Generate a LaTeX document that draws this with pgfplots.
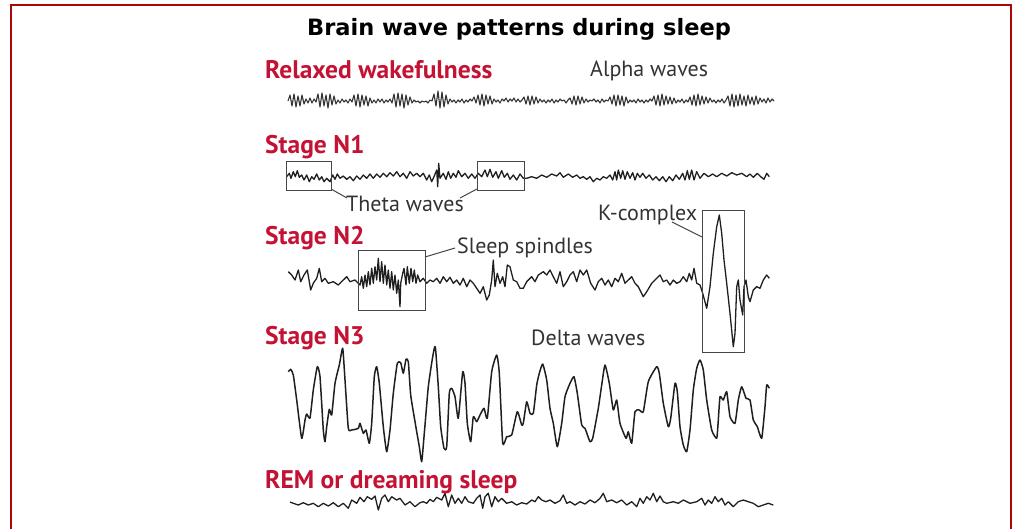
\documentclass[border=0pt]{standalone}
\usepackage{fontspec}
\usepackage{pgfplots}
\pgfplotsset{compat=1.18}
\newfontfamily\titlefont{DejaVu Sans}
\newfontfamily\labfont{PT Sans}
\definecolor{frame}{RGB}{170,8,8}
\definecolor{stage}{RGB}{196,18,52}
\definecolor{note}{RGB}{51,51,51}
\definecolor{boxc}{RGB}{70,70,70}

\pgfplotstableread{
x y
288 101
290 95
292 106
294 94
296 107
298 96
300 106
302 95
304 104
306 99
308 103
310 98
312 103
314 99
316 102
318 94
320 107
322 93
324 106
326 95
328 108
330 94
332 105
334 96
336 104
338 100
340 103
342 99
344 102
346 100
348 103
350 99
352 102
354 95
356 106
358 94
360 107
362 95
364 105
366 96
368 106
370 98
372 103
374 100
376 103
378 99
380 102
382 99
384 103
386 100
388 102
390 99
392 103
394 94
396 107
398 93
400 106
402 94
404 108
406 95
408 105
410 97
412 103
414 100
416 102
418 101
420 103
422 101
424 102
426 101
428 103
430 100
432 101
434 94
436 106
438 91
440 108
442 92
444 107
446 95
448 104
450 99
452 102
454 100
456 103
458 100
460 102
462 99
464 103
466 100
468 102
470 99
472 101
474 97
476 103
478 95
480 105
482 94
484 106
486 95
488 104
490 96
492 104
494 99
496 102
498 100
500 103
502 99
504 101
506 98
508 102
510 99
512 101
514 98
516 102
518 99
520 102
522 100
524 97
526 104
528 96
530 105
532 96
534 104
536 97
538 103
540 99
542 102
544 100
546 103
548 100
550 102
552 99
554 103
556 100
558 102
560 99
562 101
564 100
566 103
568 100
570 98
572 104
574 96
576 105
578 96
580 104
582 97
584 103
586 99
588 102
590 100
592 101
594 99
596 102
598 100
600 103
602 99
604 102
606 100
608 101
610 97
612 104
614 95
616 106
618 95
620 105
622 96
624 106
626 97
628 103
630 100
632 102
634 100
636 103
638 99
640 102
642 100
644 103
646 100
648 102
650 99
652 101
654 96
656 105
658 95
660 106
662 94
664 105
666 96
668 104
670 97
672 104
674 98
676 103
678 100
680 102
682 99
684 103
686 100
688 102
690 97
692 105
694 95
696 106
698 94
700 105
702 96
704 104
706 97
708 103
710 98
712 102
714 100
716 103
718 100
720 102
722 99
724 103
726 100
728 96
730 106
732 94
734 107
736 95
738 106
740 94
742 105
744 96
746 106
748 95
750 104
752 97
754 105
756 96
758 104
760 98
762 102
764 99
766 103
768 98
770 102
772 99
774 101
}\alphatab

\pgfplotstableread{
x y
286.7 176.7
289.3 173.3
291.0 178.3
293.3 171.7
295.3 176.7
297.3 170.7
299.3 177.3
301.7 175.0
304.0 180.0
306.7 175.0
309.3 181.7
311.7 176.7
314.0 179.3
316.7 174.0
319.3 180.0
321.7 176.7
324.0 181.7
326.7 178.3
330.0 181.7
332.7 175.0
335.0 179.3
337.3 174.0
340.0 178.3
343.3 176.0
346.7 179.3
350.0 176.7
353.3 180.7
356.7 176.0
360.0 179.3
363.3 175.0
366.7 178.3
370.0 174.0
373.3 178.3
376.7 174.0
380.0 177.3
383.3 173.3
386.7 176.7
390.0 172.7
393.3 176.0
396.7 171.7
400.0 176.7
403.3 173.3
406.7 178.3
410.0 171.7
413.3 176.0
416.7 173.3
420.0 176.7
423.3 173.3
426.7 180.0
429.3 175.0
431.7 181.7
434.0 176.7
436.7 170.0
437.7 186.7
438.7 163.3
440.0 178.3
443.3 173.3
446.0 179.3
448.3 171.7
450.7 178.3
453.3 173.3
456.0 177.3
458.3 170.7
461.7 176.7
465.0 173.3
468.3 178.3
471.7 174.0
475.0 178.3
478.3 173.3
481.7 176.7
485.0 170.0
487.3 176.7
490.0 169.3
492.7 177.3
496.0 171.7
498.3 178.3
501.7 170.7
504.3 177.3
507.3 173.3
510.0 179.3
513.3 175.0
516.7 180.0
520.0 174.0
523.3 178.3
526.7 178.3
531.7 176.7
536.7 178.3
541.7 175.0
546.7 177.3
551.7 174.0
556.7 176.0
560.0 172.7
563.3 177.3
568.3 174.0
572.7 177.3
576.7 175.0
580.0 178.3
583.3 176.7
586.7 179.3
590.0 176.7
593.3 181.7
596.7 178.3
600.0 180.0
603.3 176.7
606.7 178.3
610.0 175.0
612.7 180.0
615.0 171.7
616.7 180.0
618.3 170.0
620.7 178.3
622.7 170.7
625.0 179.3
627.3 171.7
630.0 178.3
632.7 172.7
635.0 180.0
637.3 173.3
640.0 177.3
642.7 173.3
646.0 178.3
649.3 175.0
652.7 180.0
656.0 176.7
659.3 180.7
662.7 176.7
666.0 181.7
669.3 176.7
672.7 180.7
676.0 175.0
679.3 179.3
682.7 173.3
685.0 180.0
687.3 170.7
689.3 179.3
691.7 170.0
694.0 180.0
696.7 171.7
700.0 178.3
704.0 173.3
708.3 176.7
712.7 174.0
716.7 176.7
721.7 173.3
726.7 176.0
731.7 172.7
736.7 175.0
741.7 173.3
746.7 176.7
750.0 174.0
753.3 177.3
757.3 173.3
760.7 176.7
764.0 179.3
766.7 173.3
769.3 176.7
}\thetatab

\pgfplotstableread{
x y
288.3 271.7
291.7 275.0
295.0 280.0
298.3 270.0
300.7 281.7
304.0 275.0
307.3 270.0
310.7 290.0
313.3 283.3
316.7 278.3
319.3 268.3
321.7 281.7
325.0 278.3
328.3 283.3
333.3 281.7
338.3 285.0
343.3 280.0
346.7 276.7
350.0 281.7
355.0 280.0
360.0 285.0
361.7 276.7
363.3 288.3
365.0 275.0
366.7 286.7
368.3 271.7
370.0 285.0
371.7 268.3
373.3 283.3
375.0 266.7
376.7 280.0
378.3 258.3
380.0 281.7
381.7 261.7
383.3 283.3
385.0 265.0
386.7 285.0
388.3 270.0
390.0 288.3
391.7 271.7
393.3 290.0
395.0 275.0
396.7 293.3
398.3 280.0
400.0 306.7
400.7 283.3
402.7 273.3
404.0 268.3
406.0 285.0
407.3 266.7
409.3 283.3
411.0 268.3
412.7 281.7
414.3 270.0
416.0 283.3
417.7 275.0
420.0 281.7
423.3 278.3
426.7 283.3
430.0 280.0
433.3 281.7
436.7 278.3
440.0 283.3
443.3 276.7
446.7 281.7
450.0 277.3
453.3 283.3
456.7 280.0
460.0 285.0
463.3 278.3
466.7 286.7
470.0 280.0
473.3 283.3
476.7 288.3
480.0 293.3
483.3 286.7
486.7 300.0
489.3 295.0
491.7 280.0
493.3 260.0
495.0 286.7
497.3 273.3
500.0 283.3
502.7 276.7
505.0 286.7
507.3 265.0
510.0 266.7
513.3 280.0
516.7 281.7
520.0 288.3
523.3 288.3
526.7 281.7
531.7 276.7
535.0 281.7
538.3 275.0
543.3 271.7
546.7 275.0
550.0 270.0
553.3 276.7
556.7 283.3
560.0 271.7
563.3 286.7
566.7 281.7
570.0 275.0
573.3 271.7
576.7 281.7
580.0 270.0
583.3 275.0
586.7 270.0
590.7 283.3
595.0 290.0
598.3 281.7
601.7 278.3
605.0 285.0
608.3 280.0
611.7 286.7
615.0 278.3
618.3 281.7
621.7 273.3
625.0 283.3
628.3 280.0
631.7 276.7
635.0 283.3
638.3 286.7
643.3 296.7
646.7 291.7
651.7 283.3
656.7 278.3
660.0 275.0
663.3 281.7
666.7 280.0
670.0 285.0
673.3 280.0
676.7 283.3
680.0 281.7
683.3 276.7
686.7 281.7
689.3 273.3
691.7 280.0
694.0 268.3
696.7 283.3
700.0 285.0
702.7 293.3
706.7 308.3
710.0 286.7
713.3 253.3
716.7 226.7
719.3 215.0
721.7 233.3
724.0 260.0
726.7 283.3
730.0 313.3
733.3 346.7
735.0 333.3
736.7 286.7
738.3 280.0
740.0 300.0
742.7 315.0
744.0 286.7
746.0 280.0
748.3 296.7
750.0 301.7
753.3 290.0
756.7 286.7
760.0 288.3
763.3 280.0
766.7 275.0
769.3 278.3
}\spindletab

\pgfplotstableread{
x y
288.3 371.7
290.7 369.3
293.3 375.0
296.7 400.0
301.7 438.3
305.0 420.0
306.7 414.0
310.0 418.0
313.3 390.0
317.3 366.7
320.0 376.7
323.3 430.0
325.0 441.7
326.7 426.7
329.3 409.3
331.7 415.0
335.0 383.3
339.3 365.0
342.7 348.3
345.0 380.0
348.3 428.3
351.7 430.0
358.3 428.3
360.0 423.3
363.3 433.3
366.0 430.0
369.3 443.3
371.7 423.3
374.3 376.7
376.7 366.7
379.3 383.3
383.3 426.7
386.7 451.7
390.0 430.0
393.3 393.3
397.3 363.3
400.7 362.7
403.3 373.3
406.0 359.3
408.3 361.7
410.7 395.0
415.0 421.7
419.3 446.7
421.7 461.7
424.3 433.3
428.3 386.7
432.7 356.7
435.3 346.7
438.3 386.7
440.7 426.7
444.0 448.3
446.7 446.7
449.3 393.3
451.7 388.3
455.0 396.7
458.3 418.3
462.7 371.7
465.0 383.3
467.3 423.3
470.7 441.7
473.3 416.7
476.7 421.7
480.0 415.0
484.0 408.3
487.3 418.3
491.7 371.7
496.7 355.0
499.3 373.3
502.7 443.3
506.7 436.7
511.7 435.0
517.3 411.7
521.7 425.0
523.3 423.3
526.7 401.7
530.0 413.3
533.3 413.3
536.7 385.0
539.3 373.3
542.7 364.0
546.7 380.0
550.0 408.3
553.3 423.3
557.3 446.7
561.7 423.3
565.0 396.7
570.0 383.3
574.0 376.7
577.3 393.3
581.7 425.0
585.0 428.3
590.0 441.7
592.7 438.3
598.3 408.3
601.7 385.0
605.0 365.0
609.3 383.3
613.3 410.0
616.7 400.0
620.0 423.3
626.0 438.3
628.3 431.7
631.7 443.3
635.0 411.7
639.3 410.0
643.3 411.7
648.3 381.7
656.7 366.7
659.3 373.3
663.3 403.3
668.3 426.7
670.7 418.3
675.0 383.3
677.3 391.7
680.0 426.7
683.3 445.0
686.7 451.7
690.0 430.0
693.3 390.0
696.7 368.3
700.0 360.0
703.3 370.0
706.7 400.0
711.7 430.0
716.7 438.3
718.3 420.0
720.0 396.7
723.3 400.0
726.7 391.7
730.0 416.7
735.0 423.3
738.3 400.0
741.7 386.7
746.0 398.3
750.0 400.0
753.3 420.0
757.3 426.7
761.7 438.3
765.0 406.7
766.7 385.0
769.3 388.3
}\deltatab

\pgfplotstableread{
x y
290.0 502.0
293.3 503.3
298.3 505.0
303.3 502.7
308.3 505.0
313.3 503.3
318.3 506.7
323.3 503.3
328.3 506.0
333.3 502.7
338.3 506.7
343.3 503.3
348.3 508.3
351.7 500.0
356.7 503.3
360.0 497.3
364.0 501.7
367.3 496.7
371.7 499.3
375.0 496.0
378.3 510.0
381.7 498.3
385.0 495.0
388.3 501.7
391.7 496.7
396.7 500.0
400.0 498.3
405.0 505.0
410.0 501.7
415.0 506.7
420.0 502.7
423.3 501.7
426.7 503.3
430.0 499.3
433.3 501.7
436.7 497.3
441.7 500.0
445.0 493.3
448.3 506.7
451.7 495.0
455.0 503.3
458.3 498.3
461.7 503.3
465.0 496.7
468.3 501.7
473.3 503.3
476.7 498.3
480.0 495.0
482.7 508.3
485.0 496.7
488.3 493.3
491.7 506.7
495.0 496.7
498.3 501.7
501.7 498.3
506.7 503.3
511.7 501.7
516.7 505.0
521.7 502.7
526.7 504.0
531.7 500.0
535.0 501.7
538.3 496.7
541.7 500.0
546.0 501.7
550.0 500.0
555.0 503.3
560.0 500.7
563.3 495.0
566.7 503.3
570.0 501.7
575.0 505.0
580.0 501.7
585.0 504.0
590.0 500.0
595.0 502.7
600.0 498.3
603.3 493.3
606.7 501.7
611.7 500.0
616.7 502.7
621.7 500.0
626.7 505.0
631.7 501.7
636.7 506.7
640.0 498.3
643.3 503.3
646.7 496.7
650.0 500.0
653.3 493.3
656.7 501.7
660.0 496.0
663.3 501.7
666.7 503.3
673.3 501.7
678.3 503.3
683.3 500.0
690.0 503.3
696.7 501.7
701.7 498.3
705.0 505.0
708.3 500.0
711.7 503.3
715.0 496.7
718.3 501.7
721.7 498.3
725.0 505.0
728.3 501.7
733.3 506.7
738.3 501.7
743.3 500.0
748.3 501.7
753.3 503.3
758.3 506.7
763.3 505.0
768.3 503.3
773.3 505.0
}\remtab

\begin{document}
\begin{tikzpicture}
\begin{axis}[
  scale only axis, width=1015bp, height=529bp,
  xmin=0, xmax=1015, ymin=0, ymax=529, y dir=reverse,
  hide axis, clip=false,
  trace/.style={black!88, line width=1.3bp, line join=round, no markers},
]
\path (axis cs:0,0) rectangle (axis cs:1015,529);
\draw[frame, line width=2bp] (axis cs:11,529) -- (axis cs:11,5) -- (axis cs:1011,5) -- (axis cs:1011,529);

\addplot[trace, line width=1.1bp, black!80] table {\alphatab};
\addplot[trace] table {\thetatab};
\addplot[trace] table {\spindletab};
\addplot[trace, smooth, tension=0.3, line width=1.5bp] table {\deltatab};
\addplot[trace] table {\remtab};

% boxes and leaders
\draw[boxc, line width=1bp] (axis cs:286,161) rectangle (axis cs:331,190);
\draw[boxc, line width=1bp] (axis cs:477,161) rectangle (axis cs:524,190);
\draw[boxc, line width=1bp] (axis cs:331,189) -- (axis cs:347,198);
\draw[boxc, line width=1bp] (axis cs:477,189) -- (axis cs:460,198);
\draw[boxc, line width=1bp] (axis cs:358,250) rectangle (axis cs:425,310);
\draw[boxc, line width=1bp] (axis cs:425,257) -- (axis cs:455,248);
\draw[boxc, line width=1bp] (axis cs:702,210) rectangle (axis cs:744,352);
\draw[boxc, line width=1bp] (axis cs:672,222) -- (axis cs:702,237);

% texts
\node[anchor=base, font=\titlefont\bfseries\fontsize{22.5bp}{26bp}\selectfont, inner sep=0pt] at (axis cs:519,36) {Brain wave patterns during sleep};
\begin{scope}[every node/.style={anchor=base west, inner sep=0pt}]
\node[stage, font=\labfont\bfseries\fontsize{25.5bp}{28bp}\selectfont] at (axis cs:265,79) {Relaxed wakefulness};
\node[stage, font=\labfont\bfseries\fontsize{25.5bp}{28bp}\selectfont] at (axis cs:265,153) {Stage N1};
\node[stage, font=\labfont\bfseries\fontsize{25.5bp}{28bp}\selectfont] at (axis cs:265,244) {Stage N2};
\node[stage, font=\labfont\bfseries\fontsize{25.5bp}{28bp}\selectfont] at (axis cs:265,344) {Stage N3};
\node[stage, font=\labfont\bfseries\fontsize{25.5bp}{28bp}\selectfont] at (axis cs:265,488) {REM or dreaming sleep};
\node[note, font=\labfont\fontsize{22bp}{25bp}\selectfont] at (axis cs:590,77) {Alpha waves};
\node[note, font=\labfont\fontsize{22bp}{25bp}\selectfont] at (axis cs:346,211) {Theta waves};
\node[note, font=\labfont\fontsize{22bp}{25bp}\selectfont] at (axis cs:457,253) {Sleep spindles};
\node[note, font=\labfont\fontsize{22bp}{25bp}\selectfont] at (axis cs:598,220) {K-complex};
\node[note, font=\labfont\fontsize{22bp}{25bp}\selectfont] at (axis cs:531,345) {Delta waves};
\end{scope}
\end{axis}
\end{tikzpicture}
\end{document}
